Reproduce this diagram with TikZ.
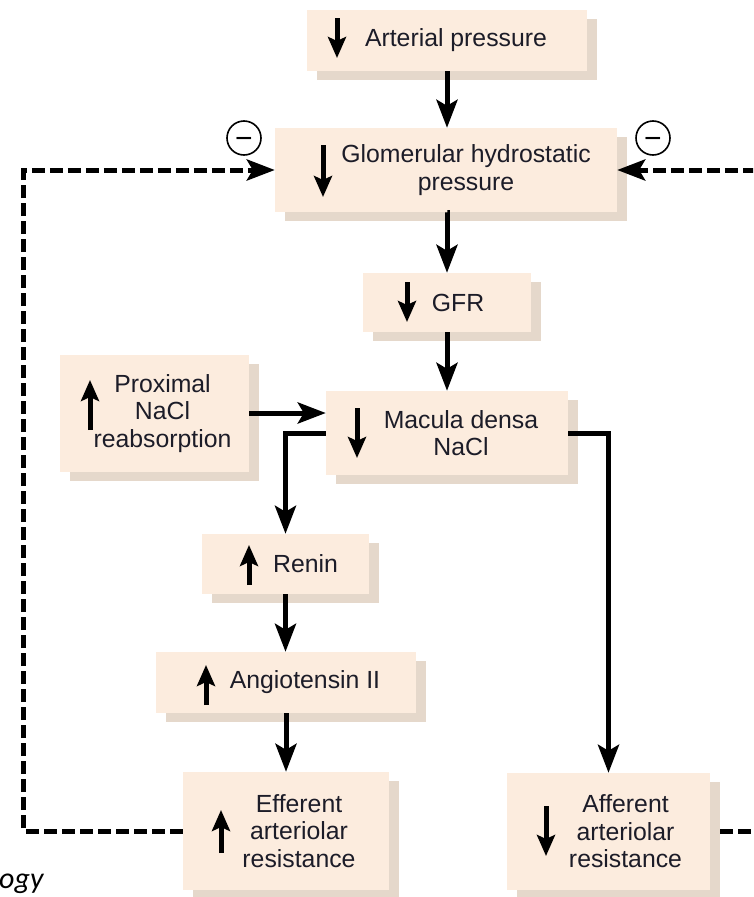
\documentclass[tikz,border=0pt]{standalone}
\usepackage{fontspec}
\setmainfont{Liberation Sans}
\newfontfamily\notefont{Carlito}
\usepackage{tikz}
\usetikzlibrary{arrows.meta}
\usetikzlibrary{shadows}
\definecolor{boxface}{RGB}{252,236,222}
\definecolor{boxshade}{RGB}{229,216,203}
\definecolor{txtcol}{RGB}{28,28,40}
\tikzset{
  box/.style={rectangle, fill=boxface, inner sep=0pt,
    general shadow={fill=boxshade, shadow xshift=10pt, shadow yshift=-9pt}},
  txt/.style={font=\fontsize{24.8}{27.5}\selectfont, text=txtcol, align=center, inner sep=0pt},
  flow/.style={line width=5pt, -{Stealth[length=28pt,width=21pt,inset=6pt]}},
  fb/.style={flow, dash pattern=on 13pt off 5pt},
  icon/.style={line width=5pt, -{Stealth[length=21pt,width=18pt,inset=4pt]}},
  neg/.style={circle, draw, line width=1.6pt, minimum size=34pt, inner sep=0pt,
    text height=20pt, text depth=0pt, font=\fontsize{30}{30}\selectfont}
}
\begin{document}
\begin{tikzpicture}[x=1pt,y=-1pt]
            \clip (0,0) rectangle (753,897);
            \node[box, minimum width=280, minimum height=61, label={[txt,xshift=9pt]center:Arterial pressure}] (arterial) at (447,40.5) {};
            \node[box, minimum width=342, minimum height=84, label={[txt,xshift=20pt]center:{Glomerular hydrostatic\\pressure}}] (glomerular) at (446,170) {};
            \node[box, minimum width=168, minimum height=59, label={[txt,xshift=11pt]center:GFR}] (gfr) at (447,302.5) {};
            \node[box, minimum width=189, minimum height=117, label={[txt,xshift=8pt]center:{Proximal\\NaCl\\reabsorption}}] (proximal) at (154.5,413.5) {};
            \node[box, minimum width=242, minimum height=84, label={[txt,xshift=14pt]center:{Macula densa\\NaCl}}] (macula) at (447,433) {};
            \node[box, minimum width=167, minimum height=60, label={[txt,xshift=20pt]center:Renin}] (renin) at (285.5,564) {};
            \node[box, minimum width=260, minimum height=61, label={[txt,xshift=19pt]center:Angiotensin II}] (angiotensin) at (286,682.5) {};
            \node[box, minimum width=206, minimum height=118, label={[txt,xshift=13pt]center:{Efferent\\arteriolar\\resistance}}] (efferent) at (286,831) {};
            \node[box, minimum width=203, minimum height=117, label={[txt,xshift=17pt]center:{Afferent\\arteriolar\\resistance}}] (afferent) at (608.5,831.5) {};
            \node[neg] (negl) at (244,138) {−};
            \node[neg] (negr) at (653,138) {−};
            \node[anchor=base east, font=\notefont\itshape\fontsize{30}{30}\selectfont] (credit) at (47,888) {ogy};
            % main chain
            \draw[flow] (arterial) -- (arterial |- glomerular.north);
            \draw[flow] (glomerular) -- (glomerular.south -| gfr) -- (gfr.north);
            \draw[flow] (gfr) -- (macula);
            \draw[flow] (proximal.east |- 0,413) -- (macula.west |- 0,413);
            \draw[flow] (macula.west) -| (renin.north);
            \draw[flow] (macula.east) -| (afferent.north);
            \draw[flow] (renin) -- (renin |- angiotensin.north);
            \draw[flow] (angiotensin) -- (efferent);
            % feedback
            \draw[fb] (efferent.west) -- ++(-159,0) |- (glomerular.west);
            \draw[fb] ([xshift=10pt]afferent.east) -- ++(65,0) |- (glomerular.east);
            % up and down marks
            \draw[icon] (337,18) -- (337,58);
            \draw[icon] (323,145) -- (323,197);
            \draw[icon] (407,282) -- (407,322);
            \draw[icon] (357,408) -- (357,458);
            \draw[icon] (90,430) -- (90,380);
            \draw[icon] (249,585) -- (249,545);
            \draw[icon] (206,705) -- (206,665);
            \draw[icon] (221,853) -- (221,810);
            \draw[icon] (546,806) -- (546,856);
        \end{tikzpicture}
\end{document}
